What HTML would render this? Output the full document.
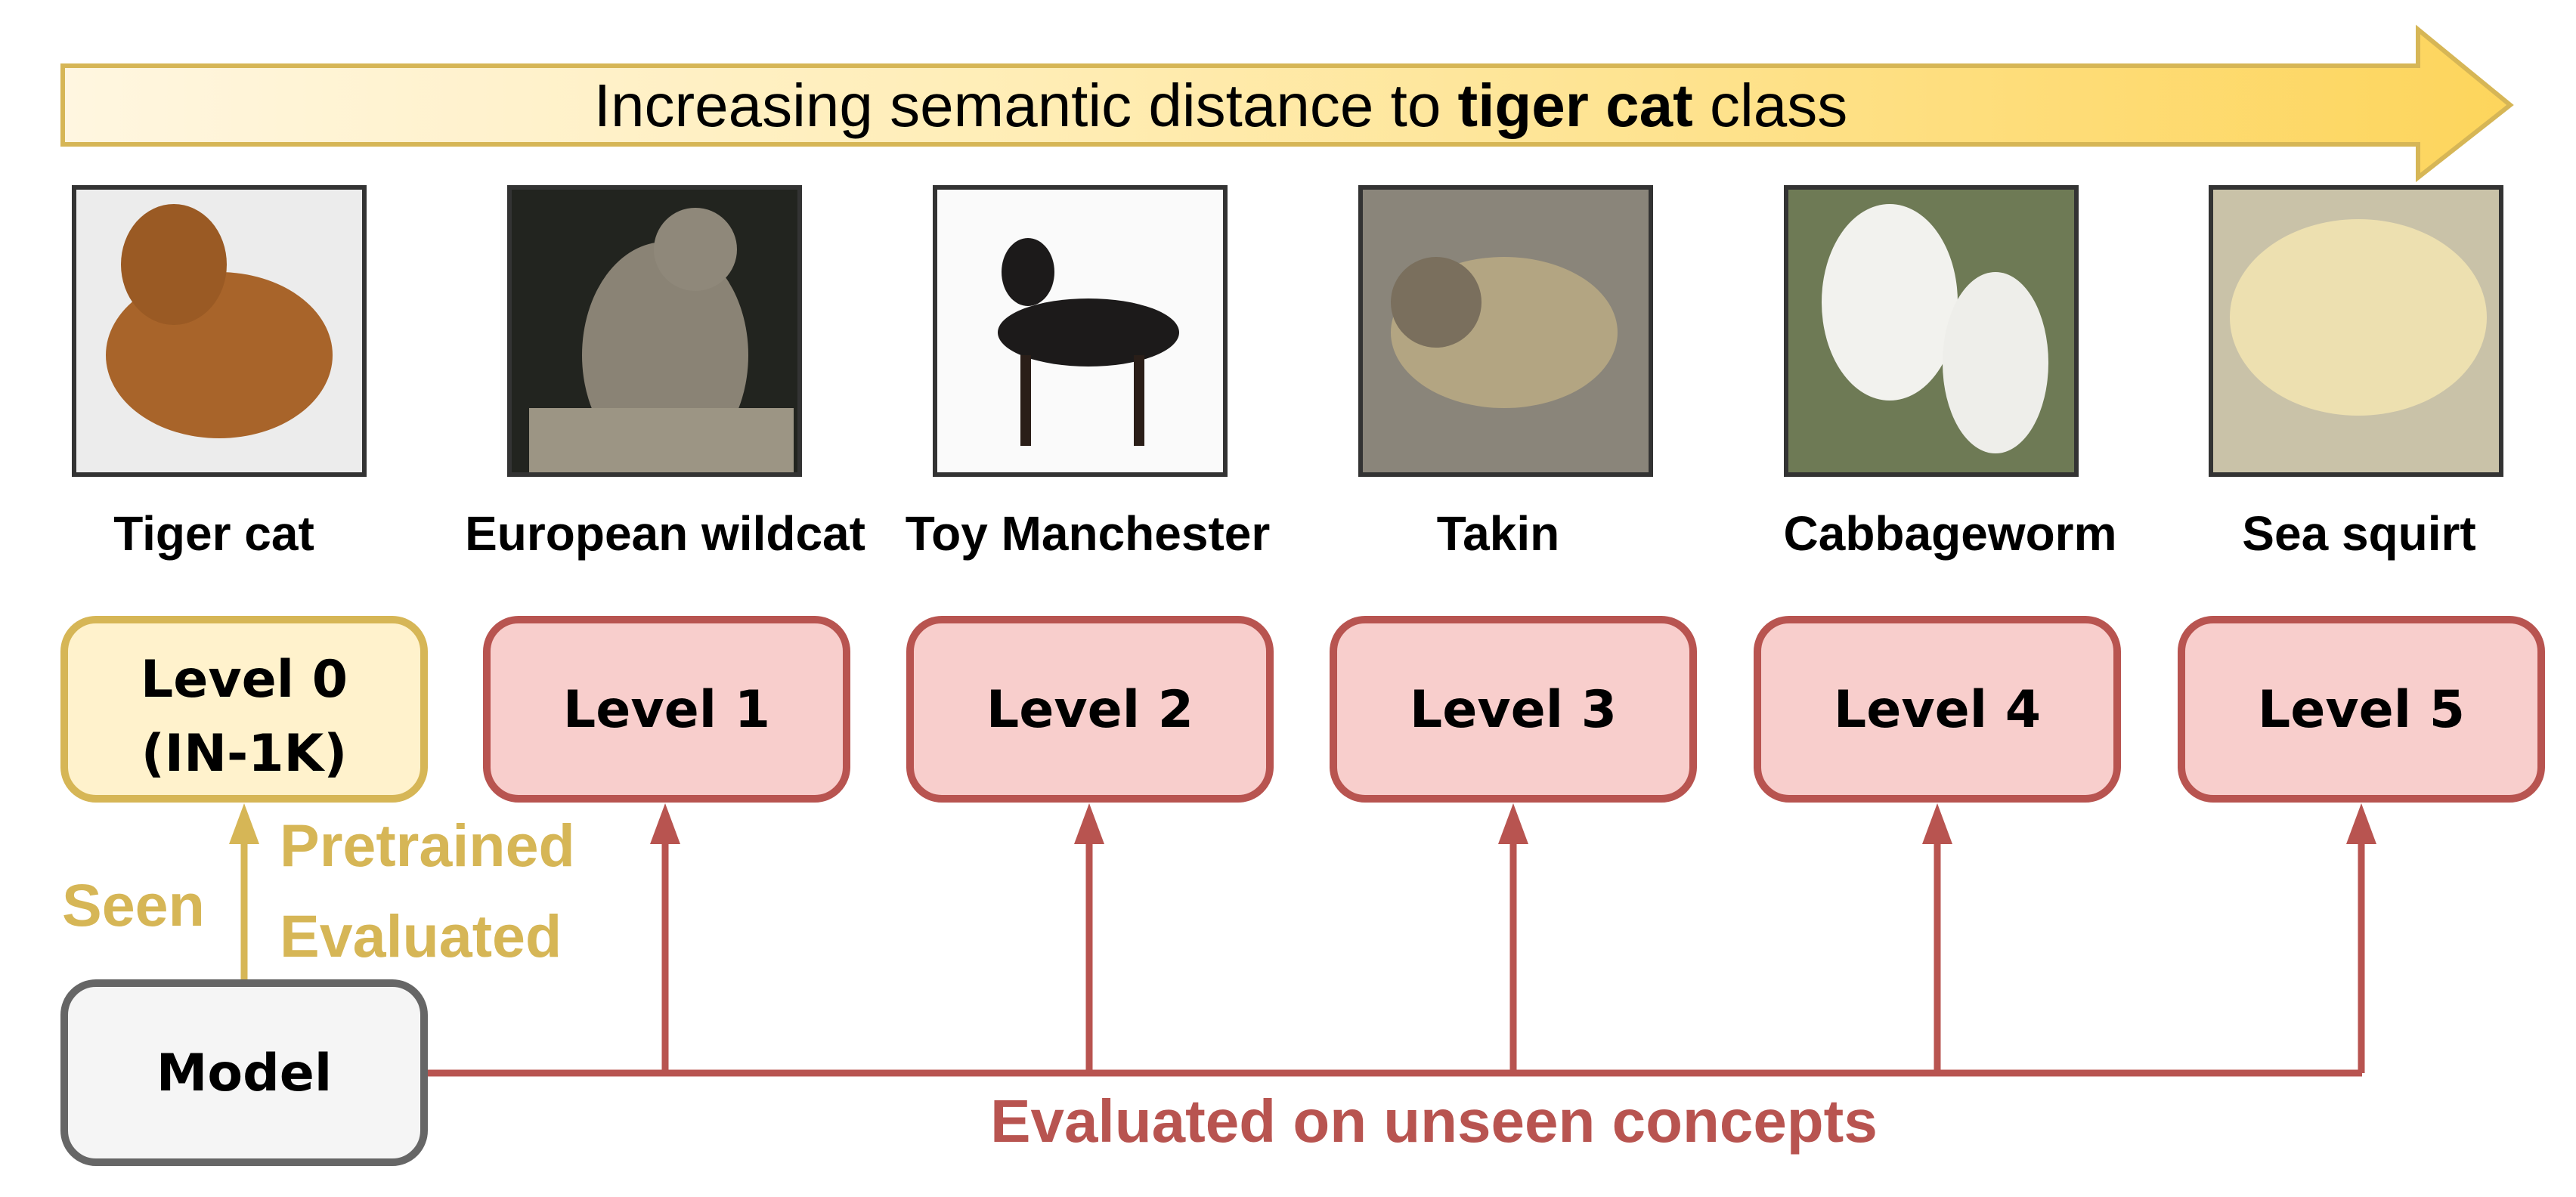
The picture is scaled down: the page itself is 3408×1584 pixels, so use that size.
<!DOCTYPE html>
<html><head><meta charset="utf-8"><style>
html,body{margin:0;padding:0;background:#fff;}
svg{display:block;}
.lvl{font-family:"Comic Sans MS","DejaVu Sans",sans-serif;font-weight:bold;font-size:68px;fill:#000;text-anchor:middle;}
.lab{font-family:"Liberation Sans",sans-serif;font-weight:bold;font-size:64px;fill:#000;text-anchor:middle;}
.y{font-family:"Liberation Sans",sans-serif;font-weight:bold;font-size:79px;fill:#d6b656;}
.r{font-family:"Liberation Sans",sans-serif;font-weight:bold;font-size:80px;fill:#b85450;text-anchor:middle;}
</style></head><body>
<svg width="3408" height="1584" viewBox="0 0 3408 1584" xmlns="http://www.w3.org/2000/svg">
<defs>
<linearGradient id="g" x1="0" x2="1" y1="0" y2="0"><stop offset="0" stop-color="#fff6e0"/><stop offset="0.4" stop-color="#ffedb5"/><stop offset="1" stop-color="#fdd55c"/></linearGradient>
</defs>
<path d="M83 87 H3199 V39 L3321 139 L3199 235 V191 H83 Z" fill="url(#g)" stroke="#d6b656" stroke-width="6"/>
<text x="1615" y="167" font-family="Liberation Sans, sans-serif" font-size="80" text-anchor="middle" fill="#000">Increasing semantic distance to <tspan font-weight="bold">tiger cat</tspan> class</text>

<g stroke="#333" stroke-width="6">
<rect x="98" y="248" width="384" height="380" fill="#ececec"/>
<rect x="674" y="248" width="384" height="380" fill="#22241f"/>
<rect x="1237" y="248" width="384" height="380" fill="#fafafa"/>
<rect x="1800" y="248" width="384" height="380" fill="#8a857a"/>
<rect x="2363" y="248" width="384" height="380" fill="#6e7a55"/>
<rect x="2925" y="248" width="384" height="380" fill="#c9c2a8"/>
</g>
<g stroke="none">
<ellipse cx="290" cy="470" rx="150" ry="110" fill="#a8642a"/><ellipse cx="230" cy="350" rx="70" ry="80" fill="#9a5a24"/>
<ellipse cx="880" cy="470" rx="110" ry="150" fill="#8a8375"/><ellipse cx="920" cy="330" rx="55" ry="55" fill="#8f887a"/><rect x="700" y="540" width="350" height="85" fill="#9c9584"/>
<ellipse cx="1440" cy="440" rx="120" ry="45" fill="#1c1a1a"/><ellipse cx="1360" cy="360" rx="35" ry="45" fill="#1c1a1a"/><rect x="1350" y="470" width="14" height="120" fill="#2a1e18"/><rect x="1500" y="470" width="14" height="120" fill="#2a1e18"/>
<ellipse cx="1990" cy="440" rx="150" ry="100" fill="#b3a582"/><ellipse cx="1900" cy="400" rx="60" ry="60" fill="#7a6f5d"/>
<ellipse cx="2500" cy="400" rx="90" ry="130" fill="#f2f2ee"/><ellipse cx="2640" cy="480" rx="70" ry="120" fill="#eeeeea"/>
<ellipse cx="3120" cy="420" rx="170" ry="130" fill="#ede0b0"/>
</g>

<text class="lab" x="283" y="728">Tiger cat</text>
<text class="lab" x="880" y="728">European wildcat</text>
<text class="lab" x="1439" y="728">Toy Manchester</text>
<text class="lab" x="1982" y="728">Takin</text>
<text class="lab" x="2580" y="728">Cabbageworm</text>
<text class="lab" x="3121" y="728">Sea squirt</text>

<g stroke="#b85450" stroke-width="9" fill="none">
<path d="M565 1420 H3125"/>
<path d="M880 1420 V1110 M1441 1420 V1110 M2002 1420 V1110 M2563 1420 V1110 M3124 1420 V1110"/>
</g>
<g fill="#b85450">
<path d="M880 1063 L900 1117 H860 Z"/><path d="M1441 1063 L1461 1117 H1421 Z"/><path d="M2002 1063 L2022 1117 H1982 Z"/><path d="M2563 1063 L2583 1117 H2543 Z"/><path d="M3124 1063 L3144 1117 H3104 Z"/>
</g>
<path d="M323 1297 V1110" stroke="#d6b656" stroke-width="9"/>
<path d="M323 1063 L343 1117 H303 Z" fill="#d6b656"/>

<rect x="85" y="820" width="476" height="237" rx="42" fill="#fff2cc" stroke="#d6b656" stroke-width="10"/>
<g fill="#f8cecc" stroke="#b85450" stroke-width="10">
<rect x="644" y="820" width="476" height="237" rx="42"/>
<rect x="1204" y="820" width="476" height="237" rx="42"/>
<rect x="1764" y="820" width="476" height="237" rx="42"/>
<rect x="2325" y="820" width="476" height="237" rx="42"/>
<rect x="2886" y="820" width="476" height="237" rx="42"/>
</g>
<rect x="85" y="1301" width="476" height="237" rx="42" fill="#f5f5f5" stroke="#666666" stroke-width="10"/>

<text class="lvl" x="323" y="922">Level 0</text>
<text class="lvl" x="323" y="1020">(IN-1K)</text>
<text class="lvl" x="882" y="962">Level 1</text>
<text class="lvl" x="1442" y="962">Level 2</text>
<text class="lvl" x="2002" y="962">Level 3</text>
<text class="lvl" x="2563" y="962">Level 4</text>
<text class="lvl" x="3124" y="962">Level 5</text>
<text class="lvl" x="323" y="1443">Model</text>

<text class="y" x="370" y="1146">Pretrained</text>
<text class="y" x="370" y="1266">Evaluated</text>
<text class="y" x="82" y="1225">Seen</text>
<text class="r" x="1897" y="1511">Evaluated on unseen concepts</text>
</svg>
</body></html>
